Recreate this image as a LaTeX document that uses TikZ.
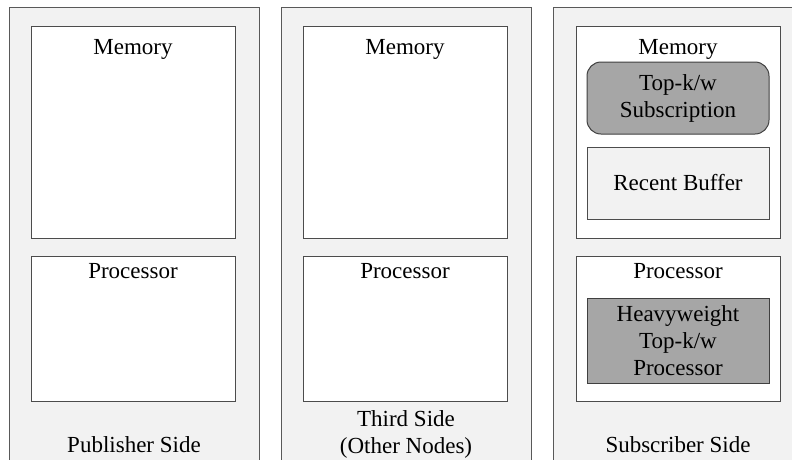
\documentclass[tikz,border=0pt]{standalone}
\usepackage{fontspec}
\setmainfont{Liberation Serif}
\begin{document}
\begin{tikzpicture}[x=1pt,y=-1pt,
  every node/.style={inner sep=0pt, outer sep=0pt},
  txt/.style={font=\fontsize{23}{27}\selectfont, align=center, text=black},
  panel/.style={draw=black!65, fill=black!5, line width=1pt, anchor=north west},
  whitebox/.style={draw=black!70, fill=white, line width=1pt, anchor=north west},
  darkbox/.style={draw=black!75, fill=black!35, line width=1pt, anchor=north west},
  lightbox/.style={draw=black!70, fill=black!5, line width=1pt, anchor=north west}
]
\useasboundingbox (0,0) rectangle (792,459);
\clip (0,0) rectangle (792,459);
\fill[white] (0,0) rectangle (792,459);

% panels
\node[panel, minimum width=250pt, minimum height=480pt] (pubpanel) at (9,7) {};
\node[panel, minimum width=250pt, minimum height=480pt] (thirdpanel) at (281,7) {};
\node[panel, minimum width=250pt, minimum height=480pt] (subpanel) at (553,7) {};

% memory and processor boxes
\node[whitebox, minimum width=204pt, minimum height=212pt] (pubmem) at (31,26) {};
\node[whitebox, minimum width=204pt, minimum height=145pt] (pubproc) at (31,256) {};
\node[whitebox, minimum width=204pt, minimum height=212pt] (thirdmem) at (303,26) {};
\node[whitebox, minimum width=204pt, minimum height=145pt] (thirdproc) at (303,256) {};
\node[whitebox, minimum width=204pt, minimum height=212pt] (submem) at (576,26) {};
\node[whitebox, minimum width=204pt, minimum height=145pt] (subproc) at (576,256) {};

% subscriber inner boxes
\node[darkbox, rounded corners=14pt, minimum width=182pt, minimum height=72pt] (topk) at (587,62) {};
\node[txt] (topktxt) at (topk.center) {Top-k/w\\Subscription};
\node[lightbox, minimum width=182pt, minimum height=72pt] (recent) at (587,147) {};
\node[txt] (recenttxt) at (recent.center) {Recent Buffer};
\node[darkbox, minimum width=182pt, minimum height=85pt] (heavy) at (587,298) {};
\node[txt] (heavytxt) at (heavy.center) {Heavyweight\\Top-k/w\\Processor};

% labels
\node[txt, anchor=base] (pubmemtxt) at (133,54) {Memory};
\node[txt, anchor=base] (pubproctxt) at (133,278) {Processor};
\node[txt, anchor=base] (thirdmemtxt) at (405,54) {Memory};
\node[txt, anchor=base] (thirdproctxt) at (405,278) {Processor};
\node[txt, anchor=base] (submemtxt) at (678,54) {Memory};
\node[txt, anchor=base] (subproctxt) at (678,278) {Processor};

\node[txt, anchor=base] (publabel) at (134,452) {Publisher Side};
\node[txt, anchor=base] (thirdlabel1) at (406,426) {Third Side};
\node[txt, anchor=base] (thirdlabel2) at (406,453) {(Other Nodes)};
\node[txt, anchor=base] (sublabel) at (678,452) {Subscriber Side};
\end{tikzpicture}
\end{document}
